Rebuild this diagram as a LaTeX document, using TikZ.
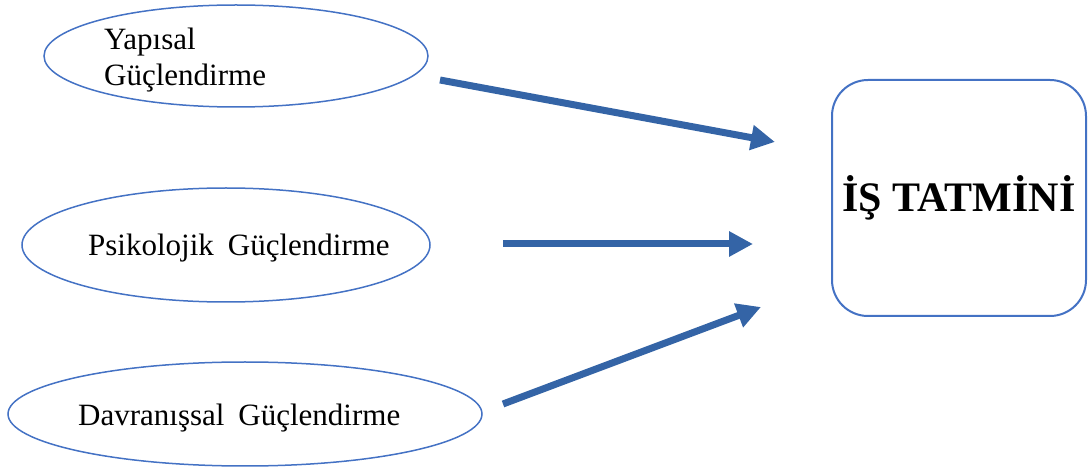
\documentclass[tikz,border=0pt]{standalone}
\usepackage{fontspec}
\setmainfont{Liberation Serif}
\usetikzlibrary{shapes.geometric,arrows.meta}
\definecolor{lineblue}{RGB}{68,114,196}
\definecolor{arrowblue}{RGB}{52,100,166}
\tikzset{
  oval/.style={ellipse, draw=lineblue, line width=1.5pt, inner sep=0pt},
  lbl/.style={inner sep=0pt, font=\rmfamily\fontsize{31}{35}\selectfont},
  bigarrow/.style={draw=arrowblue, line width=7pt,
    -{Triangle[length=24pt,width=24pt]}}
}
\begin{document}
\begin{tikzpicture}[x=1pt,y=-1pt]
\useasboundingbox (0,0) rectangle (1088,470);

% input constructs
\node[oval, minimum width=384pt, minimum height=102pt] (ell1) at (236,56) {};
\node[oval, minimum width=408pt, minimum height=114pt] (ell2) at (226,245) {};
\node[oval, minimum width=474pt, minimum height=104pt] (ell3) at (245,414) {};

\node[lbl, anchor=base west] (t1a) at (104,50) {Yapısal};
\node[lbl, anchor=base west] (t1b) at (104,86) {Güçlendirme};
\node[lbl, anchor=base west] (t2) at (88,256) {Psikolojik\hspace{0.45em}Güçlendirme};
\node[lbl, anchor=base west] (t3) at (78,426) {Davranışsal\hspace{0.45em}Güçlendirme};

% outcome
\node[draw=lineblue, line width=2pt, rounded corners=36pt,
      minimum width=254pt, minimum height=236pt, inner sep=0pt,
      font=\bfseries\fontsize{42}{48}\selectfont] (box) at (959,198) {İŞ TATMİNİ};

% arrow ends
\coordinate (a1s) at (440,80);
\coordinate (a1e) at (775,142);
\coordinate (a2s) at (503,244);
\coordinate (a2e) at (753,244);
\coordinate (a3s) at (503,404);
\coordinate (a3e) at (761,307);

\draw[bigarrow] (a1s) -- (a1e);
\draw[bigarrow] (a2s) -- (a2e);
\draw[bigarrow] (a3s) -- (a3e);
\end{tikzpicture}
\end{document}
